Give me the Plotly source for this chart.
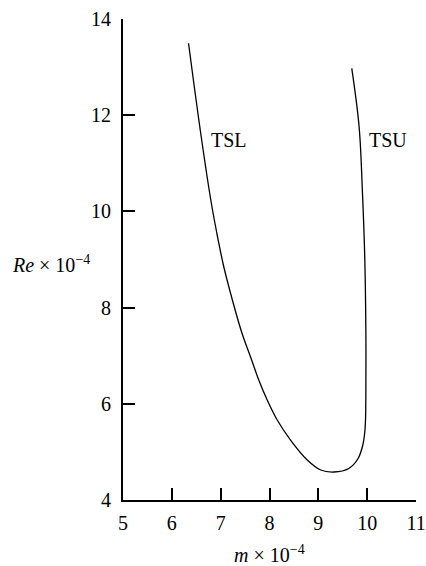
import plotly.graph_objects as go

# Neutral curve (TSL lower branch -> minimum -> TSU upper branch)
m_vals = [6.342, 6.582, 6.798, 6.921, 7.065, 7.240, 7.435, 7.634, 7.780, 7.953,
          8.158, 8.431, 8.774, 9.048, 9.321, 9.623, 9.808, 9.911, 9.958, 9.973,
          9.973, 9.952, 9.904, 9.835, 9.685]
re_vals = [13.495, 11.692, 10.237, 9.551, 8.844, 8.158, 7.472, 6.911, 6.495, 6.079,
           5.663, 5.247, 4.832, 4.624, 4.582, 4.655, 4.852, 5.143, 5.497, 6.148,
           7.534, 8.990, 10.376, 11.761, 12.975]

x_ticks = [5, 6, 7, 8, 9, 10, 11]
y_ticks = [4, 6, 8, 10, 12, 14]

labels = ["TSL", "TSU"]
label_m = [7.18, 10.43]
label_re = [11.48, 11.48]

FONT = "Liberation Serif, Times New Roman, serif"

fig = go.Figure()
fig.add_trace(go.Scatter(x=m_vals, y=re_vals, mode="lines",
                         line=dict(color="black", width=1.3, shape="spline", smoothing=1.0),
                         showlegend=False, hoverinfo="skip"))

for t, xm, yr in zip(labels, label_m, label_re):
    fig.add_annotation(x=xm, y=yr, text=t, showarrow=False,
                       font=dict(family=FONT, size=20, color="black"))

fig.add_annotation(xref="paper", yref="paper", x=-0.105, y=0.49, xanchor="right",
                   text="<i>Re</i> × 10<sup>−4</sup>", showarrow=False,
                   font=dict(family=FONT, size=20, color="black"))
fig.add_annotation(xref="paper", yref="paper", x=0.5, y=-0.113, yanchor="middle",
                   text="<i>m</i> × 10<sup>−4</sup>", showarrow=False,
                   font=dict(family=FONT, size=20, color="black"))

fig.update_layout(
    width=426, height=566,
    margin=dict(l=123, r=10, t=19, b=66),
    paper_bgcolor="white", plot_bgcolor="white",
    font=dict(family=FONT, size=20, color="black"),
)
fig.update_xaxes(range=[5, 11], tickvals=x_ticks, ticks="inside", ticklen=12, tickwidth=2,
                 tickcolor="black", showline=True, linecolor="black", linewidth=2,
                 showgrid=False, zeroline=False, ticklabelstandoff=4, automargin=False)
fig.update_yaxes(range=[4, 14], tickvals=y_ticks, ticks="inside", ticklen=12, tickwidth=2,
                 tickcolor="black", showline=True, linecolor="black", linewidth=2,
                 showgrid=False, zeroline=False, ticklabelstandoff=6, automargin=False)

fig.write_html("out.html")
